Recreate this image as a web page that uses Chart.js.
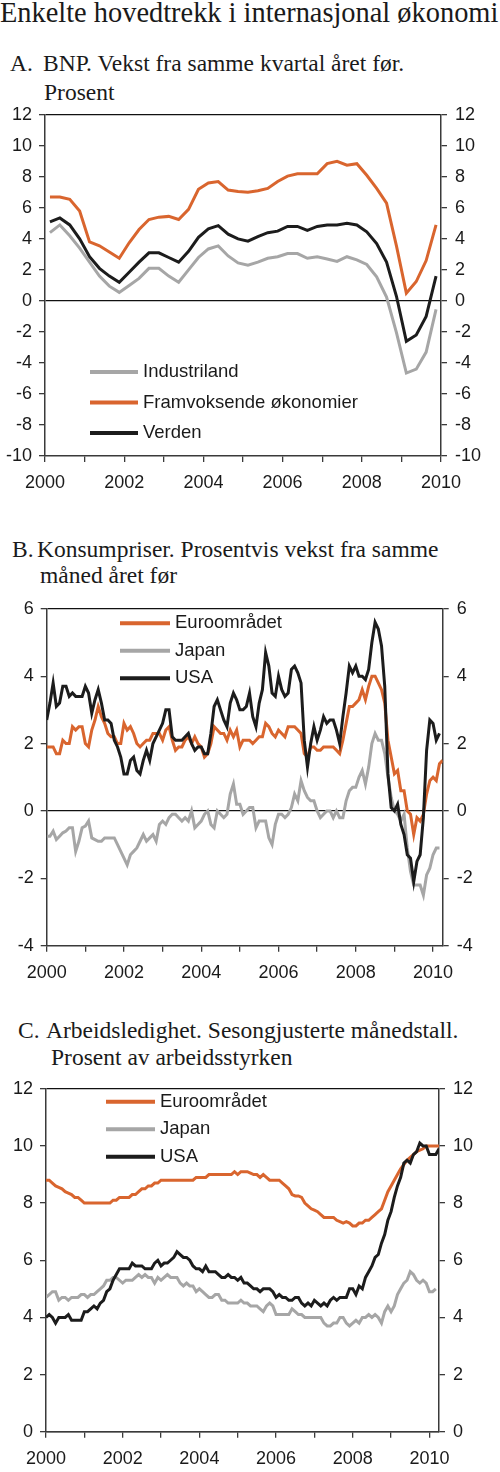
<!DOCTYPE html>
<html lang="no">
<head>
<meta charset="utf-8">
<title>Enkelte hovedtrekk i internasjonal økonomi</title>
<script src="https://cdn.jsdelivr.net/npm/chart.js@4.4.1/dist/chart.umd.min.js"></script>
<style>
    html, body { margin: 0; padding: 0; background: #fff; }
    body {
        width: 500px; height: 1472px; position: relative; overflow: hidden;
        font-family: "Liberation Serif", "Times New Roman", serif; color: #1a1a1a;
    }
    .title { position: absolute; left: 0; top: -3px; font-size: 28.4px; line-height: 32px; white-space: nowrap; }
    .sub { position: absolute; font-size: 23.5px; line-height: 28px; white-space: nowrap; }
    canvas { position: absolute; left: 0; }
</style>
</head>
<body>
<div class="title">Enkelte hovedtrekk i internasjonal økonomi</div>

<div class="sub" style="left:10px; top:49.4px;">A.</div>
<div class="sub" style="left:43px; top:49.4px;">BNP. Vekst fra samme kvartal året før.</div>
<div class="sub" style="left:44px; top:78px;">Prosent</div>
<canvas id="bnp-chart" width="500" height="404" style="top:96px;"></canvas>

<div class="sub" style="left:12px; top:534.8px;">B.</div>
<div class="sub" style="left:37px; top:534.8px;">Konsumpriser. Prosentvis vekst fra samme</div>
<div class="sub" style="left:40px; top:561.4px;">måned året før</div>
<canvas id="kpi-chart" width="500" height="402" style="top:590px;"></canvas>

<div class="sub" style="left:18px; top:1016.4px;">C.</div>
<div class="sub" style="left:46px; top:1016.4px;">Arbeidsledighet. Sesongjusterte månedstall.</div>
<div class="sub" style="left:51px; top:1043px;">Prosent av arbeidsstyrken</div>
<canvas id="ledighet-chart" width="500" height="402" style="top:1070px;"></canvas>

<script>
// Farger og skrift
const FONT = '"Liberation Sans", Arial, sans-serif';
const ORANGE = '#d9652e';
const GREY = '#a6a6a6';
const BLACK = '#1c1c1c';
const AXIS = '#3a3a3a';
const TEXT = '#1a1a1a';

// Årstall som får etikett på x-aksen
const yearLabels = [2000, 2002, 2004, 2006, 2008, 2010];

// A. BNP, kvartalstall 2000K1 - 2009K4
const bnpStartYear = 2000;
const bnpIndustriland = [4.4, 4.9, 4.2, 3.4, 2.5, 1.6, 0.95, 0.55, 1.0, 1.45,
    2.1, 2.1, 1.6, 1.2, 2.0, 2.8, 3.35, 3.55, 2.9, 2.45,
    2.3, 2.5, 2.75, 2.85, 3.05, 3.05, 2.75, 2.85, 2.7, 2.55,
    2.85, 2.65, 2.35, 1.55, 0.25, -2.05, -4.65, -4.4, -3.3, -0.55];
const bnpFramvoksende = [6.7, 6.7, 6.55, 5.8, 3.8, 3.55, 3.15, 2.75, 3.75, 4.6,
    5.25, 5.4, 5.45, 5.25, 5.9, 7.2, 7.6, 7.7, 7.15, 7.05,
    7.0, 7.1, 7.25, 7.7, 8.05, 8.2, 8.2, 8.2, 8.85, 9.0,
    8.75, 8.85, 8.1, 7.25, 6.3, 3.55, 0.5, 1.25, 2.6, 4.9];
const bnpVerden = [5.1, 5.35, 4.9, 4.0, 2.85, 2.1, 1.6, 1.2, 1.85, 2.5,
    3.1, 3.1, 2.8, 2.5, 3.2, 4.1, 4.65, 4.85, 4.3, 4.0,
    3.85, 4.15, 4.4, 4.5, 4.8, 4.8, 4.55, 4.8, 4.9, 4.9,
    5.0, 4.9, 4.45, 3.7, 2.5, 0.3, -2.6, -2.2, -1.0, 1.6];

// B. Konsumpriser, månedstall fra januar 2000
const kpiStartYear = 2000;
const kpiEuro = [
    1.9, 1.9, 1.9, 1.7, 1.7, 2.1, 2.0, 2.0, 2.5, 2.4, 2.5, 2.5,
    2.0, 1.9, 2.4, 2.7, 3.1, 2.8, 2.6, 2.3, 2.2, 2.2, 2.0, 2.0,
    2.6, 2.4, 2.5, 2.3, 2.0, 1.9, 2.0, 2.1, 2.1, 2.3, 2.3, 2.3,
    2.1, 2.4, 2.5, 2.1, 1.8, 1.9, 1.9, 2.1, 2.2, 2.0, 2.2, 2.0,
    1.9, 1.6, 1.7, 2.0, 2.5, 2.4, 2.3, 2.3, 2.1, 2.4, 2.2, 2.4,
    1.9, 2.1, 2.1, 2.1, 2.0, 2.1, 2.2, 2.2, 2.6, 2.5, 2.3, 2.2,
    2.4, 2.3, 2.2, 2.5, 2.5, 2.5, 2.4, 2.3, 1.7, 1.6, 1.9, 1.9,
    1.8, 1.8, 1.9, 1.9, 1.9, 1.9, 1.8, 1.7, 2.1, 2.6, 3.1, 3.1,
    3.2, 3.3, 3.6, 3.3, 3.7, 4.0, 4.0, 3.8, 3.6, 3.2, 2.1, 1.6,
    1.1, 1.2, 0.6, 0.6, 0.0, -0.1, -0.7, -0.2, -0.3, -0.1, 0.5, 0.9,
    1.0, 0.9, 1.4, 1.5];
const kpiJapan = [
    -0.75, -0.75, -0.6, -0.85, -0.75, -0.65, -0.6, -0.5, -0.5, -1.2, -0.9, -0.5,
    -0.45, -0.3, -0.8, -0.85, -0.9, -0.9, -0.8, -0.8, -0.8, -0.8, -1.0, -1.2,
    -1.4, -1.6, -1.3, -1.2, -1.1, -0.9, -0.7, -0.9, -0.8, -0.7, -0.9, -0.4,
    -0.3, -0.4, -0.2, -0.1, -0.1, -0.2, -0.3, -0.2, -0.3, 0.0, -0.5, -0.4,
    -0.3, -0.1, 0.0, -0.4, -0.5, 0.0, -0.1, -0.2, -0.1, 0.5, 0.8, 0.2,
    0.2, -0.1, 0.0, 0.1, 0.1, -0.5, -0.3, -0.3, -0.3, -0.8, -1.0, -0.4,
    -0.1, -0.1, -0.2, -0.1, 0.1, 0.5, 0.3, 0.9, 0.6, 0.4, 0.3, 0.3,
    0.0, -0.2, -0.1, 0.0, 0.0, -0.2, 0.0, -0.2, -0.2, 0.3, 0.6, 0.7,
    0.7, 1.0, 1.2, 0.8, 1.3, 2.0, 2.3, 2.1, 2.1, 1.7, 1.0, 0.4,
    0.0, -0.1, -0.3, -0.1, -1.1, -1.8, -2.2, -2.2, -2.2, -2.5, -1.9, -1.7,
    -1.3, -1.1, -1.1];
const kpiUsa = [
    2.7, 3.2, 3.8, 3.1, 3.2, 3.7, 3.7, 3.4, 3.5, 3.4, 3.4, 3.4,
    3.7, 3.5, 2.9, 3.3, 3.6, 3.2, 2.7, 2.7, 2.6, 2.1, 1.9, 1.6,
    1.1, 1.1, 1.5, 1.6, 1.2, 1.1, 1.5, 1.8, 1.5, 2.0, 2.2, 2.4,
    2.6, 3.0, 3.0, 2.2, 2.1, 2.1, 2.1, 2.2, 2.3, 2.0, 1.8, 1.9,
    1.9, 1.7, 1.7, 2.3, 3.1, 3.3, 3.0, 2.7, 2.5, 3.2, 3.5, 3.3,
    3.0, 3.0, 3.1, 3.5, 2.8, 2.5, 3.2, 3.6, 4.7, 4.3, 3.5, 3.4,
    4.0, 3.6, 3.4, 3.5, 4.2, 4.3, 4.1, 3.8, 2.1, 1.3, 2.0, 2.5,
    2.1, 2.4, 2.8, 2.6, 2.7, 2.7, 2.4, 2.0, 2.8, 3.5, 4.3, 4.1,
    4.3, 4.0, 4.0, 3.9, 4.2, 5.0, 5.6, 5.4, 4.9, 3.7, 1.1, 0.1,
    0.0, 0.2, -0.4, -0.7, -1.3, -1.4, -2.1, -1.5, -1.3, -0.2, 1.8, 2.7,
    2.6, 2.1, 2.3];

// C. Arbeidsledighet, månedstall fra januar 2000
const ledigStartYear = 2000;
const ledigEuro = [
    8.8, 8.8, 8.7, 8.6, 8.55, 8.5, 8.4, 8.35, 8.3, 8.2, 8.2, 8.1,
    8.0, 8.0, 8.0, 8.0, 8.0, 8.0, 8.0, 8.0, 8.0, 8.1, 8.1, 8.2,
    8.2, 8.2, 8.2, 8.3, 8.3, 8.4, 8.5, 8.5, 8.6, 8.6, 8.7, 8.7,
    8.8, 8.8, 8.8, 8.8, 8.8, 8.8, 8.8, 8.8, 8.8, 8.8, 8.8, 8.9,
    8.9, 8.9, 8.9, 9.0, 9.0, 9.0, 9.0, 9.0, 9.0, 9.0, 9.0, 9.1,
    9.0, 9.1, 9.1, 9.1, 9.05, 9.0, 9.0, 8.9, 9.0, 8.9, 8.8, 8.8,
    8.8, 8.8, 8.7, 8.6, 8.5, 8.3, 8.25, 8.25, 8.2, 8.0, 7.9, 7.8,
    7.75, 7.7, 7.6, 7.5, 7.5, 7.5, 7.5, 7.4, 7.35, 7.3, 7.35, 7.3,
    7.2, 7.2, 7.3, 7.3, 7.4, 7.4, 7.5, 7.6, 7.7, 7.8, 8.1, 8.4,
    8.6, 8.8, 9.0, 9.2, 9.35, 9.5, 9.6, 9.7, 9.8, 9.85, 9.9, 10.0,
    10.0, 10.0, 10.0, 10.0];
const ledigJapan = [
    4.7, 4.8, 4.9, 4.9, 4.6, 4.7, 4.7, 4.6, 4.7, 4.7, 4.7, 4.8,
    4.8, 4.7, 4.8, 4.8, 4.9, 5.0, 5.1, 5.3, 5.3, 5.4, 5.4, 5.3,
    5.2, 5.3, 5.3, 5.3, 5.4, 5.5, 5.4, 5.5, 5.4, 5.4, 5.2, 5.4,
    5.3, 5.4, 5.5, 5.4, 5.4, 5.4, 5.2, 5.1, 5.2, 5.1, 5.1, 4.9,
    5.0, 4.9, 4.8, 4.7, 4.7, 4.8, 4.8, 4.6, 4.6, 4.5, 4.5, 4.5,
    4.5, 4.6, 4.5, 4.5, 4.4, 4.4, 4.4, 4.3, 4.2, 4.4, 4.5, 4.4,
    4.1, 4.1, 4.1, 4.1, 4.1, 4.3, 4.2, 4.1, 4.1, 4.0, 4.0, 4.0,
    4.0, 4.0, 4.0, 3.8, 3.7, 3.7, 3.8, 3.8, 4.0, 4.0, 3.8, 3.7,
    3.8, 3.9, 3.8, 4.0, 4.0, 4.1, 4.0, 4.1, 4.0, 3.8, 4.2, 4.4,
    4.2, 4.4, 4.8, 5.0, 5.2, 5.3, 5.6, 5.5, 5.3, 5.2, 5.3, 5.2,
    4.9, 4.9, 5.0];
const ledigUsa = [
    4.0, 4.1, 4.0, 3.8, 4.0, 4.0, 4.0, 4.1, 3.9, 3.9, 3.9, 3.9,
    4.2, 4.2, 4.3, 4.4, 4.3, 4.5, 4.6, 4.9, 5.0, 5.3, 5.5, 5.7,
    5.7, 5.7, 5.7, 5.9, 5.8, 5.8, 5.8, 5.7, 5.7, 5.7, 5.9, 6.0,
    5.8, 5.9, 5.9, 6.0, 6.1, 6.3, 6.2, 6.1, 6.1, 6.0, 5.8, 5.7,
    5.7, 5.6, 5.8, 5.6, 5.6, 5.6, 5.5, 5.4, 5.4, 5.5, 5.4, 5.4,
    5.3, 5.4, 5.2, 5.2, 5.1, 5.0, 5.0, 4.9, 5.0, 5.0, 5.0, 4.9,
    4.7, 4.8, 4.7, 4.7, 4.6, 4.6, 4.7, 4.7, 4.5, 4.4, 4.5, 4.4,
    4.6, 4.5, 4.4, 4.5, 4.4, 4.6, 4.7, 4.6, 4.7, 4.7, 4.7, 5.0,
    5.0, 4.8, 5.1, 5.0, 5.4, 5.6, 5.8, 6.1, 6.2, 6.6, 6.9, 7.4,
    7.7, 8.2, 8.6, 8.9, 9.4, 9.5, 9.4, 9.7, 9.8, 10.1, 10.0, 10.0,
    9.7, 9.7, 9.7, 9.9];

function quarterly(values, startYear) {
    // kvartalstall plasseres midt i kvartalet
    return values.map((v, i) => ({ x: startYear + (i + 0.5) / 4, y: v }));
}

function monthly(values, startYear) {
    return values.map((v, i) => ({ x: startYear + i / 12, y: v }));
}

function series(label, color, points, order) {
    return {
        label: label,
        data: points,
        borderColor: color,
        backgroundColor: color,
        borderWidth: 3,
        pointRadius: 0,
        tension: 0,
        order: order
    };
}

// Forklaring inne i plottet
const insideLegend = {
    id: 'insideLegend',
    afterDraw(chart, args, opts) {
        const ctx = chart.ctx;
        ctx.save();
        ctx.font = opts.fontSize + 'px ' + FONT;
        ctx.textBaseline = 'middle';
        ctx.lineCap = 'butt';
        chart.data.datasets.forEach((ds, i) => {
            const y = opts.y + i * opts.rowHeight;
            ctx.strokeStyle = ds.borderColor;
            ctx.lineWidth = 4;
            ctx.beginPath();
            ctx.moveTo(opts.x, y);
            ctx.lineTo(opts.x + opts.lineLength, y);
            ctx.stroke();
            ctx.fillStyle = TEXT;
            ctx.fillText(ds.label, opts.x + opts.lineLength + opts.gap, y);
        });
        ctx.restore();
    }
};

function makeChart(id, datasets, opt) {
    const tickFont = { family: FONT, size: 18 };
    const yAxis = (position, width, padding, onChart) => ({
        type: 'linear',
        position: position,
        min: opt.yMin,
        max: opt.yMax,
        afterFit: scale => { scale.width = width; },
        ticks: { stepSize: 2, padding: padding, color: TEXT, font: tickFont },
        grid: {
            drawOnChartArea: onChart,
            tickLength: 6,
            tickColor: AXIS,
            lineWidth: 1.3,
            color: ctx => (ctx.tick && (ctx.tick.value === 0 || ctx.tick.value === opt.yMax)) ? '#111' : 'rgba(0,0,0,0)'
        },
        border: { display: true, color: AXIS, width: 1.5 }
    });

    return new Chart(document.getElementById(id), {
        type: 'line',
        data: { datasets: datasets },
        options: {
            responsive: false,
            animation: false,
            layout: { padding: { top: opt.padTop, left: 0, right: 0, bottom: 0 } },
            plugins: {
                legend: { display: false },
                tooltip: { enabled: false },
                insideLegend: opt.legend
            },
            scales: {
                x: {
                    type: 'linear',
                    min: opt.xMin,
                    max: opt.xMax,
                    afterFit: scale => { scale.height = opt.xHeight; },
                    ticks: {
                        stepSize: 1,
                        autoSkip: false,
                        maxRotation: 0,
                        includeBounds: false,
                        padding: 10.5,
                        color: TEXT,
                        font: tickFont,
                        callback: v => yearLabels.includes(Math.round(v)) ? String(Math.round(v)) : ''
                    },
                    grid: { drawOnChartArea: false, tickLength: 6, tickColor: AXIS, lineWidth: 1.3 },
                    border: { display: true, color: AXIS, width: 1.5 }
                },
                y: yAxis('left', opt.leftWidth, 7, true),
                y2: yAxis('right', opt.rightWidth, 8, false)
            }
        },
        plugins: [insideLegend]
    });
}

document.addEventListener('DOMContentLoaded', function() {
    makeChart('bnp-chart', [
        series('Industriland', GREY, quarterly(bnpIndustriland, bnpStartYear), 2),
        series('Framvoksende økonomier', ORANGE, quarterly(bnpFramvoksende, bnpStartYear), 1),
        series('Verden', BLACK, quarterly(bnpVerden, bnpStartYear), 0)
    ], {
        yMin: -10, yMax: 12, xMin: 2000, xMax: 2010,
        padTop: 12, xHeight: 44, leftWidth: 45, rightWidth: 59,
        legend: { x: 90, y: 276, rowHeight: 30.5, lineLength: 48, gap: 5, fontSize: 18.5 }
    });

    makeChart('kpi-chart', [
        series('Euroområdet', ORANGE, monthly(kpiEuro, kpiStartYear), 1),
        series('Japan', GREY, monthly(kpiJapan, kpiStartYear), 2),
        series('USA', BLACK, monthly(kpiUsa, kpiStartYear), 0)
    ], {
        yMin: -4, yMax: 6, xMin: 2000, xMax: 2010.25,
        padTop: 11.7, xHeight: 46.3, leftWidth: 46.7, rightWidth: 57.3,
        legend: { x: 120, y: 33.3, rowHeight: 27.5, lineLength: 50, gap: 5, fontSize: 18.5 }
    });

    makeChart('ledighet-chart', [
        series('Euroområdet', ORANGE, monthly(ledigEuro, ledigStartYear), 1),
        series('Japan', GREY, monthly(ledigJapan, ledigStartYear), 2),
        series('USA', BLACK, monthly(ledigUsa, ledigStartYear), 0)
    ], {
        yMin: 0, yMax: 12, xMin: 2000, xMax: 2010.25,
        padTop: 11.7, xHeight: 40.3, leftWidth: 46, rightWidth: 61,
        legend: { x: 106, y: 31.7, rowHeight: 27.5, lineLength: 49, gap: 5, fontSize: 18.5 }
    });
});
</script>
</body>
</html>
